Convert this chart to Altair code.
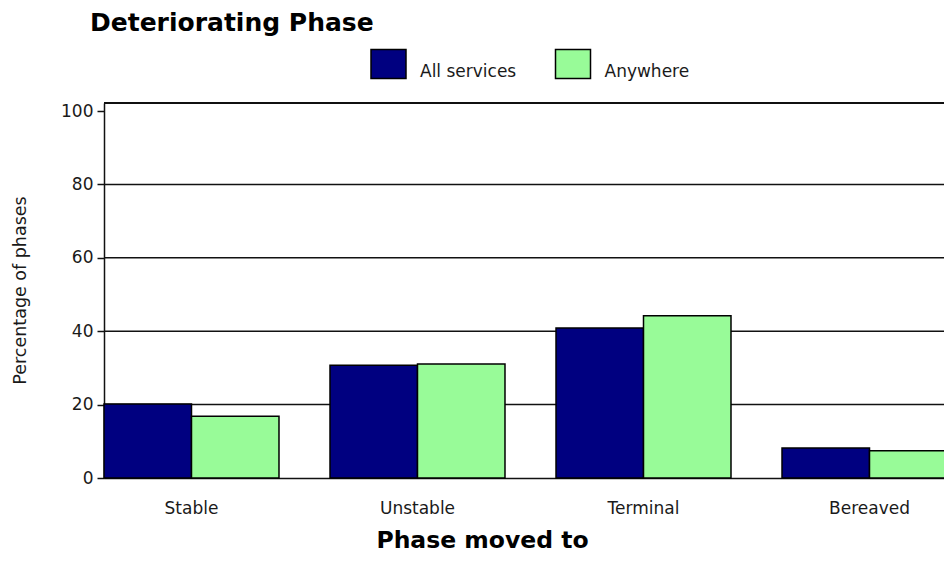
import altair as alt
import pandas as pd

categories = ["Stable", "Unstable", "Terminal", "Bereaved"]
series_names = ["All services", "Anywhere"]
all_services = [20.2, 30.7, 40.9, 8.2]
anywhere = [16.8, 31.1, 44.2, 7.4]
y_ticks = [0, 20, 40, 60, 80, 100]
grid_values = [20, 40, 60, 80]
colors = ["#000080", "#98FB98"]

rows = []
for c, a, b in zip(categories, all_services, anywhere):
    rows.append({"phase": c, "series": series_names[0], "pct": a})
    rows.append({"phase": c, "series": series_names[1], "pct": b})
df = pd.DataFrame(rows)
grid_df = pd.DataFrame({"v": grid_values})

W, H = 840, 375
y_scale = alt.Scale(domain=[0, 102.2], nice=False, zero=True)
TXT = "#1a1a1a"
FONT = "DejaVu Sans"

y_axis = alt.Axis(
    title="Percentage of phases",
    titleFont=FONT,
    titleFontSize=17.5,
    titleFontWeight="normal",
    titleColor=TXT,
    titleX=-84,
    titleY=187,
    titleAngle=-90,
    titleBaseline="middle",
    titleAlign="center",
    values=y_ticks,
    labelFont=FONT,
    labelFontSize=17,
    labelColor=TXT,
    labelPadding=4,
    tickSize=7,
    tickColor="#111111",
    tickWidth=1.5,
    domainColor="#111111",
    domainWidth=1.5,
    grid=False,
)

grid = alt.Chart(grid_df).mark_rule(color="#111111", strokeWidth=1.5).encode(
    y=alt.Y("v:Q", scale=y_scale, axis=y_axis, title="Percentage of phases"),
    x=alt.value(0),
    x2=alt.value(860),
)

bars = alt.Chart(df).mark_bar(stroke="black", strokeWidth=1.5).encode(
    x=alt.X(
        "phase:N",
        sort=categories,
        scale=alt.Scale(range=[0, 853], paddingInner=0.2257, paddingOuter=0),
        axis=alt.Axis(
            title="Phase moved to",
            titleFont=FONT,
            titleFontSize=23.5,
            titleFontWeight="bold",
            titleColor="black",
            titleX=378,
            titleY=69,
            titleBaseline="alphabetic",
            titleAnchor="start",
            titleAlign="center",
            labelFont=FONT,
            labelFontSize=17,
            labelColor=TXT,
            labelAngle=0,
            labelBaseline="top",
            labelPadding=22,
            ticks=False,
            tickSize=0,
            domainColor="#111111",
            domainWidth=1.5,
            grid=False,
        ),
    ),
    xOffset=alt.XOffset("series:N", sort=series_names, scale=alt.Scale(paddingInner=0, paddingOuter=0)),
    y=alt.Y("pct:Q", scale=y_scale, axis=y_axis, title="Percentage of phases"),
    color=alt.Color(
        "series:N",
        sort=series_names,
        scale=alt.Scale(domain=series_names, range=colors),
        legend=alt.Legend(
            title=None,
            orient="none",
            legendX=266,
            legendY=-58,
            direction="horizontal",
            symbolType="M-1,-0.83H1V0.83H-1Z",
            symbolSize=1225,
            symbolStrokeColor="black",
            symbolStrokeWidth=1.5,
            symbolOpacity=1,
            labelFont=FONT,
            labelFontSize=17,
            labelColor=TXT,
            labelOffset=13,
            labelBaseline="top",
            columnPadding=35.5,
            padding=0,
        ),
    ),
)

top_border = alt.Chart(grid_df).mark_rule(color="#111111", strokeWidth=1.5).encode(
    x=alt.value(0),
    x2=alt.value(860),
    y=alt.value(0),
)

chart = alt.layer(grid, bars, top_border).properties(
    width=W,
    height=H,
    autosize=alt.AutoSizeParams(type="none"),
    padding={"left": 96, "top": 95, "right": 0, "bottom": 75},
    title=alt.Title(
        "Deteriorating Phase",
        font=FONT,
        fontSize=25,
        fontWeight="bold",
        color="black",
        anchor="start",
        frame="group",
        dx=-14,
        dy=27,
        offset=16,
        baseline="alphabetic",
    ),
).configure_view(stroke=None).configure(background="white")

chart.save("out.html", embed_options={"renderer": "svg", "actions": False})
